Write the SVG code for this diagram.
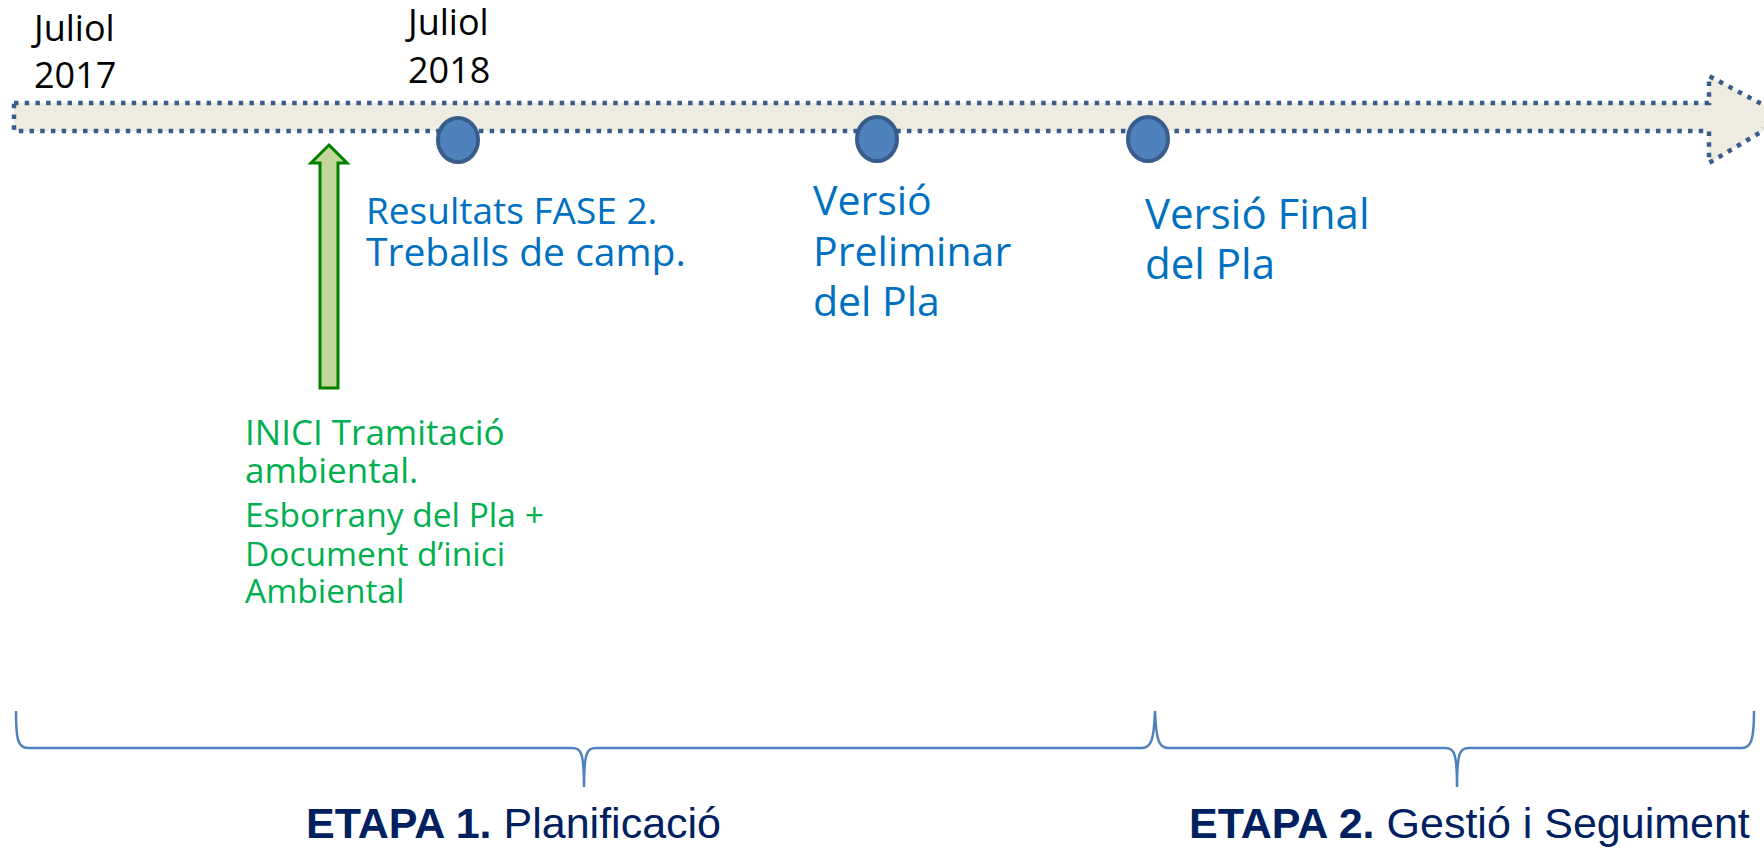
<svg xmlns="http://www.w3.org/2000/svg" width="1764" height="848" viewBox="0 0 1764 848">
<style>
.juliol{font-family:"Open Sans","Liberation Sans",sans-serif;font-size:36px;fill:#000}
.blue{font-family:"Open Sans","Liberation Sans",sans-serif;fill:#0070c0}
.green{font-family:"Open Sans","Liberation Sans",sans-serif;fill:#00b050}
.etapa{font-family:"Liberation Sans","Open Sans",sans-serif;font-size:43px;fill:#002060}
.milestone{fill:#4f81bd;stroke:#385d8a;stroke-width:4}
.brace{fill:none;stroke:#4f81bd;stroke-width:2.5}
</style>
<rect width="1764" height="848" fill="#ffffff"/>
<g id="timeline">
<path d="M14,103 L1709,103 L1709,76 L1786,117 L1709,163 L1709,131 L14,131 Z" fill="#eeece1" stroke="#385d8a" stroke-width="4.5" stroke-dasharray="4.5 6.2"/>
</g>
<g id="label-2017">
<text class="juliol" x="34" y="41">Juliol</text>
<text class="juliol" x="34" y="88">2017</text>
</g>
<g id="label-2018">
<text class="juliol" x="408" y="35">Juliol</text>
<text class="juliol" x="408" y="83">2018</text>
</g>
<g id="m1">
<ellipse class="milestone" cx="458" cy="140" rx="20" ry="22"/>
<text class="blue" font-size="37" x="366" y="224">Resultats FASE 2.</text>
<text class="blue" font-size="39" x="366" y="266">Treballs de camp.</text>
</g>
<g id="m2">
<ellipse class="milestone" cx="877" cy="139" rx="20" ry="22"/>
<text class="blue" font-size="41" x="813" y="215">Versió</text>
<text class="blue" font-size="41" x="813" y="266">Preliminar</text>
<text class="blue" font-size="41" x="813" y="316">del Pla</text>
</g>
<g id="m3">
<ellipse class="milestone" cx="1148" cy="139" rx="20" ry="22"/>
<text class="blue" font-size="42" x="1145" y="229">Versió Final</text>
<text class="blue" font-size="42" x="1145" y="279">del Pla</text>
</g>
<g id="inici">
<path d="M329,145 L347,163 L338,163 L338,388 L320,388 L320,163 L311,163 Z" fill="#c3d69b" stroke="#008000" stroke-width="3" stroke-linejoin="miter"/>
<text class="green" font-size="35" x="245" y="445">INICI Tramitació</text>
<text class="green" font-size="35" x="245" y="483">ambiental.</text>
<text class="green" font-size="33.5" x="245" y="527">Esborrany del Pla +</text>
<text class="green" font-size="33.5" x="245" y="566">Document d’inici</text>
<text class="green" font-size="33.5" x="245" y="603">Ambiental</text>
</g>
<g id="connectors">
<path class="brace" d="M16,711 C16,740 18,748 28,748 L572,748 C581,748 584,752 584,787 C584,752 587,748 596,748 L1142,748 C1151,748 1154,740 1155,711 C1156,740 1159,748 1168,748 L1445,748 C1454,748 1457,752 1457,787 C1457,752 1460,748 1469,748 L1742,748 C1751,748 1754,740 1754,711"/>
</g>
<g id="etapa1">
<text class="etapa" x="306" y="838"><tspan font-weight="bold">ETAPA 1.</tspan> Planificació</text>
</g>
<g id="etapa2">
<text class="etapa" x="1189" y="838"><tspan font-weight="bold">ETAPA 2.</tspan> Gestió i Seguiment</text>
</g>
</svg>
